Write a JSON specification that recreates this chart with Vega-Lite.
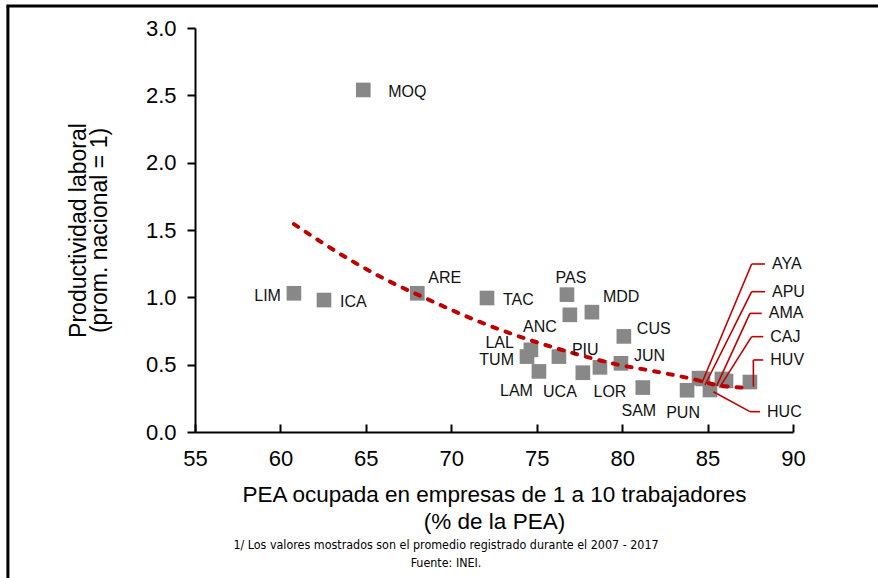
{
  "$schema": "https://vega.github.io/schema/vega-lite/v6.json",
  "width": 598,
  "height": 404,
  "autosize": {"type": "none"},
  "padding": {"left": 195, "top": 28, "right": 85, "bottom": 146},
  "background": "white",
  "config": {
    "view": {"stroke": null},
    "font": "Liberation Sans",
    "axis": {
      "domainColor": "black", "domainWidth": 2, "tickColor": "black", "tickWidth": 2,
      "labelColor": "black", "titleColor": "black", "grid": false, "labelFlush": false,
      "labelFont": "Liberation Sans", "titleFont": "Liberation Sans", "titleFontWeight": "normal"
    }
  },
  "title": {
    "text": ["1/ Los valores mostrados son el promedio registrado durante el 2007 - 2017", "Fuente: INEI."],
    "orient": "bottom", "anchor": "middle", "frame": "group",
    "font": "DejaVu Sans Condensed, Liberation Sans Narrow, sans-serif",
    "fontSize": 12.4, "fontWeight": "normal", "color": "black",
    "lineHeight": 18, "offset": 0, "dx": -48, "dy": -41
  },
  "datasets": {
    "regions": [
      {"region": "MOQ", "pea": 64.85, "prod": 2.54, "pos": "rf"},
      {"region": "LIM", "pea": 60.79, "prod": 1.03, "pos": "l"},
      {"region": "ICA", "pea": 62.55, "prod": 0.98, "pos": "r"},
      {"region": "ARE", "pea": 68.01, "prod": 1.03, "pos": "ar"},
      {"region": "TAC", "pea": 72.09, "prod": 0.995, "pos": "r"},
      {"region": "PAS", "pea": 76.77, "prod": 1.02, "pos": "a"},
      {"region": "ANC", "pea": 76.94, "prod": 0.87, "pos": "ll"},
      {"region": "MDD", "pea": 78.23, "prod": 0.89, "pos": "ar"},
      {"region": "CUS", "pea": 80.10, "prod": 0.71, "pos": "ur"},
      {"region": "LAL", "pea": 74.66, "prod": 0.61, "pos": "ul"},
      {"region": "TUM", "pea": 74.43, "prod": 0.56, "pos": "l"},
      {"region": "LAM", "pea": 75.13, "prod": 0.45, "pos": "bl"},
      {"region": "PIU", "pea": 76.30, "prod": 0.56, "pos": "ur"},
      {"region": "UCA", "pea": 77.70, "prod": 0.44, "pos": "bl"},
      {"region": "LOR", "pea": 78.70, "prod": 0.48, "pos": "br"},
      {"region": "JUN", "pea": 79.93, "prod": 0.51, "pos": "ur"},
      {"region": "SAM", "pea": 81.21, "prod": 0.33, "pos": "b"},
      {"region": "PUN", "pea": 83.80, "prod": 0.31, "pos": "b"},
      {"region": "AYA", "pea": 84.50, "prod": 0.40, "pos": "c"},
      {"region": "APU", "pea": 84.73, "prod": 0.394, "pos": "c"},
      {"region": "AMA", "pea": 85.84, "prod": 0.394, "pos": "c"},
      {"region": "CAJ", "pea": 86.08, "prod": 0.379, "pos": "c"},
      {"region": "HUV", "pea": 87.48, "prod": 0.371, "pos": "c"},
      {"region": "HUC", "pea": 85.14, "prod": 0.312, "pos": "c"}
    ],
    "trend": [
      {"pea": 60.79, "prod": 1.544},
      {"pea": 63.89, "prod": 1.292},
      {"pea": 66.23, "prod": 1.128},
      {"pea": 68.34, "prod": 1.002},
      {"pea": 71.68, "prod": 0.817},
      {"pea": 74.60, "prod": 0.683},
      {"pea": 77.12, "prod": 0.586},
      {"pea": 79.87, "prod": 0.497},
      {"pea": 81.80, "prod": 0.453},
      {"pea": 84.14, "prod": 0.393},
      {"pea": 85.54, "prod": 0.349},
      {"pea": 87.47, "prod": 0.327}
    ],
    "callouts": [
      {"region": "AYA", "tx": 84.66, "ty": 0.362, "ex": 87.58, "ey": 1.2475, "hx": 88.36},
      {"region": "APU", "tx": 84.85, "ty": 0.349, "ex": 87.58, "ey": 1.042, "hx": 88.36},
      {"region": "AMA", "tx": 85.53, "ty": 0.342, "ex": 87.48, "ey": 0.881, "hx": 88.17},
      {"region": "CAJ", "tx": 85.73, "ty": 0.337, "ex": 87.58, "ey": 0.708, "hx": 88.26},
      {"region": "HUV", "tx": 87.68, "ty": 0.337, "ex": 87.68, "ey": 0.535, "hx": 88.26},
      {"region": "HUC", "tx": 85.34, "ty": 0.299, "ex": 87.48, "ey": 0.151, "hx": 88.07}
    ]
  },
  "layer": [
    {
      "data": {"name": "regions"},
      "mark": {"type": "point", "shape": "square", "filled": true, "size": 215, "color": "#888888", "opacity": 1},
      "encoding": {
        "x": {
          "field": "pea", "type": "quantitative",
          "scale": {"domain": [55, 90], "nice": false, "zero": false},
          "axis": {
            "values": [55, 60, 65, 70, 75, 80, 85, 90], "tickSize": -8, "labelFontSize": 22, "labelPadding": 24,
            "title": ["PEA ocupada en empresas de 1 a 10 trabajadores", "(% de la PEA)"],
            "titleFontSize": 22.5, "titlePadding": 14, "titleLineHeight": 27
          }
        },
        "y": {
          "field": "prod", "type": "quantitative",
          "scale": {"domain": [0, 3], "nice": false, "zero": false},
          "axis": {
            "values": [0, 0.5, 1, 1.5, 2, 2.5, 3], "format": ".1f", "tickSize": 8, "labelFontSize": 22, "labelPadding": 11,
            "title": ["Productividad laboral", "(prom. nacional = 1)"],
            "titleFontSize": 23, "titlePadding": 34, "titleLineHeight": 21
          }
        }
      }
    },
    {
      "data": {"values": [{}]},
      "mark": {"type": "rule", "color": "black", "strokeWidth": 3},
      "encoding": {
        "x": {"datum": 44.05, "type": "quantitative"},
        "y": {"datum": -1.09, "type": "quantitative"},
        "y2": {"datum": 3.163}
      }
    },
    {
      "data": {"values": [{}]},
      "mark": {"type": "rule", "color": "black", "strokeWidth": 3},
      "encoding": {
        "x": {"datum": 43.96, "type": "quantitative"},
        "x2": {"datum": 95.1},
        "y": {"datum": 3.163, "type": "quantitative"}
      }
    },
    {
      "data": {"name": "trend"},
      "mark": {"type": "line", "color": "#C00000", "strokeWidth": 4, "strokeDash": [5, 9], "strokeCap": "round", "interpolate": "monotone"},
      "encoding": {
        "x": {"field": "pea", "type": "quantitative"},
        "y": {"field": "prod", "type": "quantitative"}
      }
    },
    {
      "data": {"name": "callouts"},
      "mark": {"type": "rule", "color": "#C00000", "strokeWidth": 1.6},
      "encoding": {
        "x": {"field": "tx", "type": "quantitative"},
        "y": {"field": "ty", "type": "quantitative"},
        "x2": {"field": "ex"},
        "y2": {"field": "ey"}
      }
    },
    {
      "data": {"name": "callouts"},
      "mark": {"type": "rule", "color": "#C00000", "strokeWidth": 1.6},
      "encoding": {
        "x": {"field": "ex", "type": "quantitative"},
        "x2": {"field": "hx"},
        "y": {"field": "ey", "type": "quantitative"}
      }
    },
    {
      "data": {"name": "callouts"},
      "mark": {"type": "text", "align": "left", "dx": 7, "fontSize": 16, "color": "#111111"},
      "encoding": {
        "x": {"field": "hx", "type": "quantitative"},
        "y": {"field": "ey", "type": "quantitative"},
        "text": {"field": "region"}
      }
    },
    {
      "data": {"name": "regions"},
      "transform": [{"filter": "datum.pos != 'c'"}],
      "mark": {
        "type": "text", "fontSize": 16, "color": "#111111",
        "align": {"expr": "['left','left','right','right','left','center','right','left','right','center','center'][indexof(['r','rf','l','ul','ar','a','ll','ur','bl','b','br'], datum.pos)]"},
        "dx": {"expr": "[16,25,-13,-17,11,4,-13,13,-6,-4,10][indexof(['r','rf','l','ul','ar','a','ll','ur','bl','b','br'], datum.pos)]"},
        "dy": {"expr": "[2,2,3,-7,-15,-17,12,-7,19.5,23,25][indexof(['r','rf','l','ul','ar','a','ll','ur','bl','b','br'], datum.pos)]"}
      },
      "encoding": {
        "x": {"field": "pea", "type": "quantitative"},
        "y": {"field": "prod", "type": "quantitative"},
        "text": {"field": "region"}
      }
    }
  ]
}
